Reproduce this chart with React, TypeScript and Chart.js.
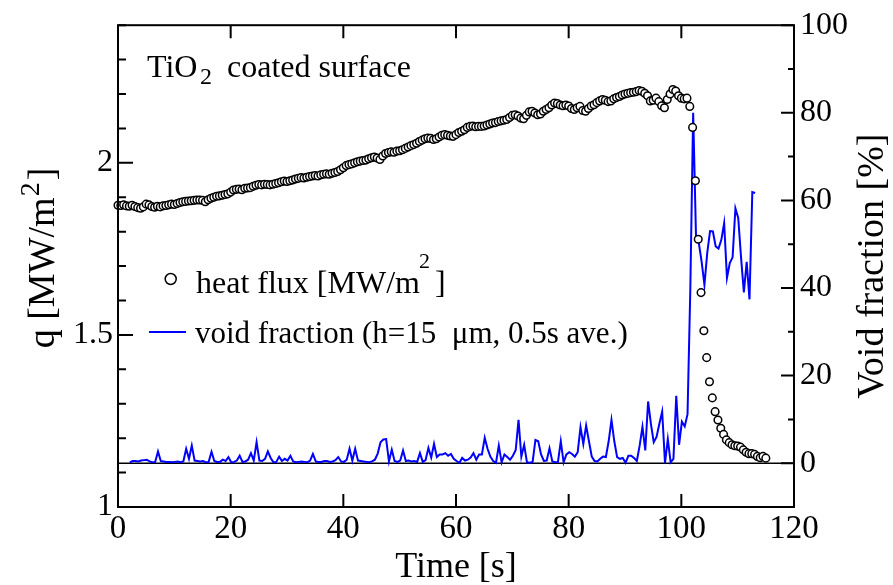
import React, { useEffect, useRef } from 'react';
import { Chart, registerables } from 'chart.js';

Chart.register(...registerables);

const SERIF = '"Liberation Serif", "Times New Roman", Times, serif';

// ---- data ----
// heat flux [MW/m2], sampled every 0.5 s starting at t = 0 s
const HF_START = 0;
const HF_STEP = 0.5;
const heatFlux = [
  1.877, 1.876, 1.878, 1.875, 1.874, 1.877, 1.873, 1.870, 1.868, 1.872,
  1.880, 1.878, 1.873, 1.871, 1.874, 1.872, 1.875, 1.876, 1.878, 1.880,
  1.879, 1.882, 1.885, 1.887, 1.888, 1.889, 1.890, 1.891, 1.892, 1.892,
  1.891, 1.887, 1.893, 1.897, 1.900, 1.903, 1.904, 1.906, 1.908, 1.910,
  1.915, 1.921, 1.923, 1.924, 1.922, 1.926, 1.927, 1.928, 1.932, 1.935,
  1.937, 1.936, 1.938, 1.937, 1.936, 1.938, 1.940, 1.942, 1.945, 1.947,
  1.946, 1.948, 1.950, 1.953, 1.955, 1.957, 1.956, 1.958, 1.960, 1.962,
  1.963, 1.962, 1.965, 1.967, 1.968, 1.967, 1.970, 1.972, 1.975, 1.980,
  1.986, 1.992, 1.995, 1.997, 2.000, 2.003, 2.005, 2.007, 2.008, 2.012,
  2.015, 2.017, 2.014, 2.010, 2.020, 2.027, 2.030, 2.032, 2.031, 2.034,
  2.035, 2.038, 2.042, 2.046, 2.050, 2.053, 2.057, 2.062, 2.066, 2.070,
  2.072, 2.071, 2.068, 2.070, 2.075, 2.080, 2.082, 2.080, 2.078, 2.077,
  2.082, 2.088, 2.092, 2.096, 2.103, 2.106, 2.107, 2.105, 2.106, 2.106,
  2.107, 2.110, 2.113, 2.116, 2.117, 2.120, 2.122, 2.124, 2.126, 2.132,
  2.138, 2.140, 2.136, 2.130, 2.128, 2.138, 2.148, 2.150, 2.145, 2.140,
  2.142, 2.150, 2.155, 2.160, 2.168, 2.174, 2.172, 2.168, 2.166, 2.168,
  2.165, 2.158, 2.155, 2.160, 2.164, 2.152, 2.150, 2.158, 2.165, 2.169,
  2.175, 2.180, 2.184, 2.182, 2.178, 2.180, 2.186, 2.190, 2.193, 2.197,
  2.200, 2.202, 2.204, 2.205, 2.207, 2.210, 2.208, 2.202, 2.195, 2.180,
  2.182, 2.188, 2.178, 2.166, 2.160, 2.184, 2.200, 2.213, 2.209, 2.195,
  2.188, 2.186, 2.188, 2.164, 2.103, 1.948, 1.778, 1.623, 1.512, 1.434,
  1.364, 1.317, 1.277, 1.253, 1.229, 1.211, 1.195, 1.187, 1.181, 1.178,
  1.177, 1.174, 1.166, 1.159, 1.155, 1.155, 1.153, 1.147, 1.143, 1.147,
  1.142,
];

// void fraction [%], sampled every 0.5 s starting at t = 2.1 s
const VF_START = 2.1;
const VF_STEP = 0.5;
const voidFraction = [
  0.2, 0.5, 0.5, 0.4, 0.6, 0.7, 0.8, 0.4, 0.2, 0.3,
  2.7, 0.5, 0.4, 0.3, 0.3, 0.2, 0.3, 0.4, 0.2, 0.4,
  3.3, 1.0, 4.0, 0.6, 0.5, 0.4, 0.5, 0.2, 0.3, 2.6,
  0.5, 0.3, 0.3, 0.8, 0.5, 1.4, 0.2, 0.3, 0.6, 1.7,
  0.3, 0.4, 0.8, 2.3, 0.6, 4.8, 0.6, 0.5, 1.0, 2.7,
  1.2, 0.2, 0.3, 1.5, 0.5, 1.0, 0.6, 1.7, 0.4, 0.2,
  0.3, 0.4, 0.3, 0.2, 0.6, 2.1, 0.4, 0.3, 0.3, 0.5,
  0.5, 0.3, 0.4, 0.7, 1.4, 0.4, 0.3, 0.8, 3.3, 0.6,
  3.3, 0.6, 0.5, 0.4, 0.3, 0.2, 0.4, 0.8, 2.2, 4.8,
  5.4, 5.5, 0.4, 3.1, 0.5, 0.3, 0.6, 2.9, 0.5, 0.6,
  0.4, 0.5, 0.3, 2.3, 0.3, 0.7, 3.5, 1.3, 4.4, 1.4,
  2.0, 2.0, 2.3, 1.7, 2.1, 1.0, 0.5, 0.1, 1.2, 0.6,
  0.8, 1.3, 2.3, 0.8, 2.0, 2.0, 5.8, 3.3, 1.5, 0.5,
  0.1, 4.0, 0.2, 2.0, 1.4, 0.8, 1.7, 3.0, 9.9, 1.5,
  4.2, 0.2, 0.1, 0.3, 5.3, 5.0, 2.0, 0.5, 0.6, 3.4,
  0.4, 0.2, 0.3, 5.0, 0.2, 2.0, 2.5, 2.1, 1.5, 2.5,
  8.2, 4.4, 8.6, 5.0, 1.5, 0.5, 0.4, 1.0, 1.5, 1.4,
  5.0, 9.9, 5.0, 1.4, 1.0, 1.2, 0.1, 1.7, 1.7, 1.2,
  0.5, 4.0, 8.3, 2.9, 14.1, 9.0, 4.8, 6.0, 9.0, 11.8,
  0.0, 5.5, 0.2, 1.0, 15.4, 4.2, 9.5, 8.4, 11.2, 40.0,
  80.0, 52.0, 50.3, 46.0, 40.7, 48.0, 53.0, 52.9, 49.5, 49.0,
  51.0, 54.8, 42.3, 45.7, 47.0, 58.2, 56.0, 47.0, 39.0, 46.0,
  37.4, 61.9, 61.7,
];

// axes / tick labels
const X_MIN = 0;
const X_MAX = 120;
const X_STEP = 20;
const Q_MIN = 1;
const Q_MAX = 2.4;
const Q_MINOR = 0.1;
const Q_LABELS = [1, 1.5, 2];
const V_MIN = -10;
const V_MAX = 100;
const V_MINOR = 10;
const V_LABELS = [0, 20, 40, 60, 80, 100];

const X_TITLE = 'Time [s]';
const Q_TITLE = ['q [MW/m', '2', ']'];
const V_TITLE = 'Void fraction [%]';
const NOTE = ['TiO', '2', 'coated surface'];
const LEGEND_HF = ['heat flux [MW/m', '2', ']'];
const LEGEND_VF = 'void fraction (h=15  \u03bcm, 0.5s ave.)';

const near = (a: number, b: number) => Math.abs(a - b) < 1e-6;

const decorPlugin = {
  id: 'decor',
  beforeDatasetsDraw(chart: any) {
    const { ctx, chartArea: a, scales } = chart;
    const z = scales.y2.getPixelForValue(0);
    ctx.save();
    ctx.strokeStyle = '#000';
    ctx.lineWidth = 1.5;
    ctx.beginPath();
    ctx.moveTo(a.left, z);
    ctx.lineTo(a.right, z);
    ctx.stroke();
    ctx.restore();
  },
  afterDraw(chart: any) {
    const { ctx, chartArea: a, scales } = chart;
    const xs = scales.x;
    const ys = scales.y;
    const y2 = scales.y2;
    ctx.save();
    ctx.strokeStyle = '#000';
    ctx.lineWidth = 2;
    ctx.strokeRect(a.left, a.top, a.right - a.left, a.bottom - a.top);

    ctx.beginPath();
    for (let v = X_MIN; v <= X_MAX + 1e-9; v += X_STEP) {
      const px = xs.getPixelForValue(v);
      ctx.moveTo(px, a.bottom);
      ctx.lineTo(px, a.bottom - 13);
      ctx.moveTo(px, a.top);
      ctx.lineTo(px, a.top + 13);
    }
    const nq = Math.round((Q_MAX - Q_MIN) / Q_MINOR);
    for (let k = 0; k <= nq; k++) {
      const v = Q_MIN + k * Q_MINOR;
      const py = ys.getPixelForValue(v);
      const major = near(v * 2, Math.round(v * 2));
      ctx.moveTo(a.left, py);
      ctx.lineTo(a.left + (major ? 15 : 8), py);
    }
    for (let v = V_MIN; v <= V_MAX + 1e-9; v += V_MINOR) {
      const py = y2.getPixelForValue(v);
      const major = V_LABELS.some((l) => near(l, v));
      ctx.moveTo(a.right, py);
      ctx.lineTo(a.right - (major ? 13 : 6), py);
    }
    ctx.stroke();

    ctx.fillStyle = '#000';
    ctx.textBaseline = 'alphabetic';
    ctx.textAlign = 'left';

    // note
    ctx.font = `32px ${SERIF}`;
    ctx.fillText(NOTE[0], 147, 77);
    ctx.font = `24px ${SERIF}`;
    ctx.fillText(NOTE[1], 200, 84);
    ctx.font = `32px ${SERIF}`;
    ctx.fillText(NOTE[2], 227, 77);

    // legend: heat flux
    ctx.lineWidth = 1.5;
    ctx.beginPath();
    ctx.arc(170.7, 279, 5.5, 0, Math.PI * 2);
    ctx.stroke();
    ctx.font = `32px ${SERIF}`;
    ctx.fillText(LEGEND_HF[0], 196, 293);
    ctx.font = `22px ${SERIF}`;
    ctx.fillText(LEGEND_HF[1], 419, 268);
    ctx.font = `32px ${SERIF}`;
    ctx.fillText(LEGEND_HF[2], 435, 293);

    // legend: void fraction
    ctx.strokeStyle = '#0000ff';
    ctx.lineWidth = 2;
    ctx.beginPath();
    ctx.moveTo(149, 332);
    ctx.lineTo(186, 332);
    ctx.stroke();
    ctx.font = `31px ${SERIF}`;
    ctx.fillText(LEGEND_VF, 195, 343);

    // x title
    ctx.font = `36px ${SERIF}`;
    ctx.textAlign = 'center';
    ctx.fillText(X_TITLE, (a.left + a.right) / 2, 577);

    // left title (rotated)
    ctx.textAlign = 'left';
    ctx.font = `38px ${SERIF}`;
    const w0 = ctx.measureText(Q_TITLE[0]).width;
    const w2 = ctx.measureText(Q_TITLE[2]).width;
    ctx.font = `28px ${SERIF}`;
    const w1 = ctx.measureText(Q_TITLE[1]).width;
    const total = w0 + w1 + 3 + w2;
    ctx.save();
    ctx.translate(54, 258 + total / 2);
    ctx.rotate(-Math.PI / 2);
    ctx.font = `38px ${SERIF}`;
    ctx.fillText(Q_TITLE[0], 0, 0);
    ctx.font = `28px ${SERIF}`;
    ctx.fillText(Q_TITLE[1], w0 + 1, -15);
    ctx.font = `38px ${SERIF}`;
    ctx.fillText(Q_TITLE[2], w0 + w1 + 3, 0);
    ctx.restore();

    // right title (rotated, reads bottom-to-top)
    ctx.save();
    ctx.translate(883, (a.top + a.bottom) / 2);
    ctx.rotate(-Math.PI / 2);
    ctx.textAlign = 'center';
    ctx.font = `38px ${SERIF}`;
    ctx.fillText(V_TITLE, 0, 0);
    ctx.restore();

    ctx.restore();
  },
};

export default function App() {
  const ref = useRef<HTMLCanvasElement | null>(null);

  useEffect(() => {
    if (!ref.current) return;
    const hfData = heatFlux.map((v, i) => ({ x: HF_START + i * HF_STEP, y: v }));
    const vfData = voidFraction.map((v, i) => ({ x: VF_START + i * VF_STEP, y: v }));
    const chart = new Chart(ref.current, {
      type: 'scatter',
      data: {
        datasets: [
          {
            label: 'heat flux',
            data: hfData,
            yAxisID: 'y',
            showLine: false,
            pointRadius: 3.8,
            pointBorderWidth: 1.5,
            pointBackgroundColor: '#ffffff',
            pointBorderColor: '#000000',
            clip: false,
          } as any,
          {
            label: 'void fraction',
            data: vfData,
            yAxisID: 'y2',
            showLine: true,
            borderColor: '#0000ff',
            borderWidth: 2,
            pointRadius: 0,
            tension: 0,
            clip: false,
          } as any,
        ],
      },
      options: {
        animation: false,
        responsive: true,
        maintainAspectRatio: false,
        events: [],
        layout: { padding: { top: 23, left: 0, right: 0, bottom: 0 } },
        plugins: {
          legend: { display: false },
          tooltip: { enabled: false },
          title: { display: false },
        },
        scales: {
          x: {
            type: 'linear',
            position: 'bottom',
            min: X_MIN,
            max: X_MAX,
            grid: { display: false, drawTicks: false },
            border: { display: false },
            ticks: {
              stepSize: X_STEP,
              autoSkip: false,
              maxRotation: 0,
              padding: 3,
              color: '#000',
              font: { family: SERIF, size: 33 },
            },
            afterFit: (s: any) => {
              s.height = 78;
            },
          },
          y: {
            type: 'linear',
            position: 'left',
            min: Q_MIN,
            max: Q_MAX,
            grid: { display: false, drawTicks: false },
            border: { display: false },
            ticks: {
              stepSize: Q_MINOR,
              autoSkip: false,
              padding: 5,
              color: '#000',
              font: { family: SERIF, size: 32 },
              callback: (v: any) => {
                const n = Number(v);
                return Q_LABELS.some((l) => near(l, n)) ? String(Math.round(n * 10) / 10) : '';
              },
            },
            afterFit: (s: any) => {
              s.width = 118;
            },
          },
          y2: {
            type: 'linear',
            position: 'right',
            min: V_MIN,
            max: V_MAX,
            grid: { display: false, drawTicks: false },
            border: { display: false },
            ticks: {
              stepSize: V_MINOR,
              autoSkip: false,
              padding: 6,
              color: '#000',
              font: { family: SERIF, size: 32 },
              callback: (v: any) => {
                const n = Number(v);
                return V_LABELS.some((l) => near(l, n)) ? String(Math.round(n)) : '';
              },
            },
            afterFit: (s: any) => {
              s.width = 99;
            },
          },
        },
      } as any,
      plugins: [decorPlugin],
    });
    return () => chart.destroy();
  }, []);

  return (
    <div style={{ position: 'fixed', left: 0, top: 0, width: 893, height: 585, background: '#fff' }}>
      <canvas ref={ref} />
    </div>
  );
}
